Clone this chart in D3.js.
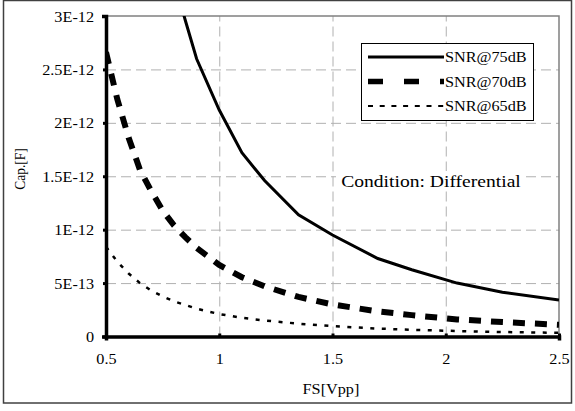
<!DOCTYPE html>
<html>
<head>
<meta charset="utf-8">
<script src="https://cdn.jsdelivr.net/npm/d3@7/dist/d3.min.js"></script>
<style>
  body { margin: 0; background: #fff; }
  svg, svg text { font-family: "Liberation Serif", "Times New Roman", Tinos, "DejaVu Serif", serif; }
</style>
</head>
<body>
<svg width="575" height="411"></svg>
<script>
'use strict';
// FS values along the x axis (Vpp)
var fs = [0.5, 0.55, 0.6, 0.65, 0.7, 0.75, 0.8, 0.85, 0.9, 1.0, 1.1, 1.2, 1.35, 1.5, 1.7, 1.85, 2.05, 2.25, 2.5];
// capacitance in units of 1E-12 F
var snr75 = [8.6, 7.1, 5.95, 5.05, 4.37, 3.8, 3.34, 2.96, 2.6, 2.12, 1.72, 1.46, 1.14, 0.95, 0.73, 0.625, 0.5, 0.415, 0.342];
var snr70 = [2.66, 2.22, 1.86, 1.56, 1.36, 1.18, 1.04, 0.93, 0.83, 0.67, 0.555, 0.47, 0.37, 0.30, 0.235, 0.2, 0.16, 0.135, 0.11];
var snr65 = [0.84, 0.70, 0.59, 0.50, 0.43, 0.375, 0.33, 0.295, 0.26, 0.21, 0.175, 0.15, 0.12, 0.097, 0.074, 0.063, 0.051, 0.042, 0.034];
var seriesNames = ['SNR@75dB', 'SNR@70dB', 'SNR@65dB'];
var xTicks = [0.5, 1, 1.5, 2, 2.5];
var xTickLabels = ['0.5', '1', '1.5', '2', '2.5'];
var yTicks = [0, 0.5e-12, 1e-12, 1.5e-12, 2e-12, 2.5e-12, 3e-12];
var yTickLabels = ['0', '5E-13', '1E-12', '1.5E-12', '2E-12', '2.5E-12', '3E-12'];

var serif = '"Liberation Serif", "Times New Roman", Tinos, "DejaVu Serif", serif';
var stretch = 1.12; // text in the picture is widened horizontally
var fontSize = '14.5px';

var margin = {top: 16, right: 16, bottom: 74.5, left: 106};
var canvasWidth = 575;
var canvasHeight = 411;
var width = canvasWidth - margin.left - margin.right;
var height = canvasHeight - margin.top - margin.bottom;

var svg = d3.select('svg');

// outer frame
svg.append('rect')
  .attr('x', 3.5).attr('y', 0.5)
  .attr('width', 568).attr('height', 402.5)
  .attr('fill', 'none')
  .attr('stroke', '#404040')
  .attr('stroke-width', 1.5);

var g = svg.append('g')
  .attr('transform', 'translate(' + margin.left + ',' + margin.top + ')');

var xScale = d3.scaleLinear().domain([0.5, 2.5]).range([0, width]);
var yScale = d3.scaleLinear().domain([0, 3e-12]).range([height, 0]);

// grid lines
g.append('g')
  .call(d3.axisLeft(yScale).tickValues(yTicks.slice(1, 6)).tickSize(-width).tickFormat(''))
  .call(function(s) {
    s.select('.domain').remove();
    s.selectAll('line').attr('stroke', '#b0b0b0').attr('stroke-dasharray', '10,5');
  });
g.append('g')
  .attr('transform', 'translate(0,' + height + ')')
  .call(d3.axisBottom(xScale).tickValues(xTicks.slice(1, 4)).tickSize(-height).tickFormat(''))
  .call(function(s) {
    s.select('.domain').remove();
    s.selectAll('line').attr('stroke', '#b0b0b0').attr('stroke-dasharray', '10,5');
  });

// top and right plot border
g.append('path')
  .attr('d', 'M0,0H' + width + 'V' + height)
  .attr('fill', 'none')
  .attr('stroke', '#808080')
  .attr('stroke-width', 1.5);

// white box behind the condition note
var condX = 325, condY = 165;
g.append('rect')
  .attr('x', condX - 95).attr('y', condY - 10)
  .attr('width', 190).attr('height', 20)
  .attr('fill', '#fff');

// curves
g.append('clipPath').attr('id', 'clip')
  .append('rect').attr('width', width).attr('height', height);

var line = d3.line()
  .x(function(d) { return xScale(d[0]); })
  .y(function(d) { return yScale(d[1] * 1e-12); });

var styles = [
  {w: 3, dash: null},
  {w: 6, dash: '12,10'},
  {w: 2.5, dash: '4,7.5'}
];
var allSeries = [snr75, snr70, snr65];

allSeries.forEach(function(vals, i) {
  g.append('path')
    .datum(fs.map(function(f, j) { return [f, vals[j]]; }))
    .attr('clip-path', 'url(#clip)')
    .attr('fill', 'none')
    .attr('stroke', '#000')
    .attr('stroke-width', styles[i].w)
    .attr('stroke-dasharray', styles[i].dash)
    .attr('d', line);
});

// widen a text horizontally around its anchor point
function stretchText(sel, anchorX) {
  sel.each(function() {
    d3.select(this).attr('transform',
      'translate(' + anchorX + ',0) scale(' + stretch + ',1) translate(' + (-anchorX) + ',0)');
  });
}

var yAxis = g.append('g')
  .call(d3.axisLeft(yScale).tickValues(yTicks).tickSize(4)
    .tickFormat(function(d, i) { return yTickLabels[i]; }));
yAxis.attr('font-family', serif);
yAxis.select('.domain').attr('stroke', '#000').attr('stroke-width', 3.5);
yAxis.selectAll('.tick line').attr('stroke', '#000').attr('stroke-width', 3).attr('x1', 0).attr('x2', -3);
yAxis.selectAll('.tick text')
  .attr('x', -12).attr('dy', '0.35em')
  .style('font-family', serif)
  .style('font-size', fontSize)
  .attr('fill', '#000')
  .call(stretchText, -12);

var xAxis = g.append('g')
  .attr('transform', 'translate(0,' + height + ')')
  .call(d3.axisBottom(xScale).tickValues(xTicks).tickSize(4)
    .tickFormat(function(d, i) { return xTickLabels[i]; }));
xAxis.attr('font-family', serif);
xAxis.select('.domain').attr('stroke', '#000').attr('stroke-width', 3.5);
xAxis.selectAll('.tick line').attr('stroke', '#000').attr('stroke-width', 3).attr('y1', -3).attr('y2', 0);
xAxis.selectAll('.tick text')
  .attr('y', 22.5).attr('dy', '0.35em')
  .style('font-family', serif)
  .style('font-size', fontSize)
  .attr('fill', '#000')
  .call(stretchText, 0);

// axis titles
svg.append('text')
  .attr('x', 331).attr('y', 389).attr('dy', '0.35em')
  .attr('text-anchor', 'middle')
  .style('font-family', serif)
  .style('font-size', fontSize)
  .text('FS[Vpp]')
  .call(stretchText, 331);

svg.append('text')
  .attr('transform', 'translate(20,169) scale(' + stretch + ',1) rotate(-90)')
  .attr('dy', '0.35em')
  .attr('text-anchor', 'middle')
  .style('font-family', serif)
  .style('font-size', '13.5px')
  .text('Cap.[F]');

// condition note
g.append('text')
  .attr('x', condX).attr('y', condY).attr('dy', '0.35em')
  .attr('text-anchor', 'middle')
  .style('font-family', serif)
  .style('font-size', '17.5px')
  .text('Condition: Differential')
  .call(stretchText, condX);

// legend
var legend = svg.append('g');
legend.append('rect')
  .attr('x', 361.5).attr('y', 43.5)
  .attr('width', 172).attr('height', 77)
  .attr('fill', '#fff')
  .attr('stroke', '#000')
  .attr('stroke-width', 1);

var legendDash = [null, '15,21', '5,6.7'];
var legendW = [3, 5.5, 2];
seriesNames.forEach(function(name, i) {
  var ly = 57 + i * 24.5;
  legend.append('line')
    .attr('x1', 368).attr('x2', 444)
    .attr('y1', ly).attr('y2', ly)
    .attr('stroke', '#000')
    .attr('stroke-width', legendW[i])
    .attr('stroke-dasharray', legendDash[i]);
  legend.append('text')
    .attr('x', 445).attr('y', ly).attr('dy', '0.35em')
    .style('font-family', serif)
    .style('font-size', fontSize)
    .text(name)
    .call(stretchText, 445);
});
</script>
</body>
</html>
